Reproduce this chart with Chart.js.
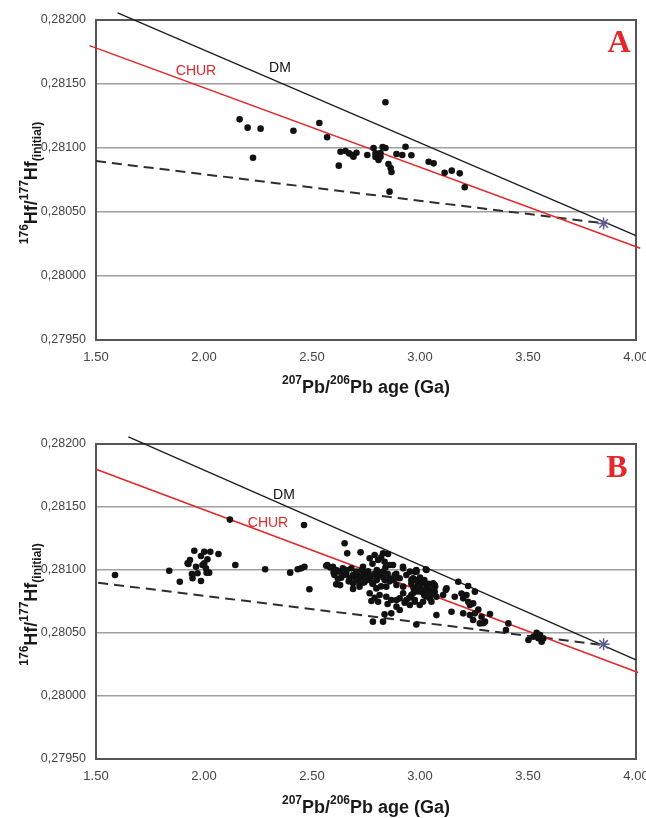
<!DOCTYPE html>
<html>
<head>
<meta charset="utf-8">
<script src="https://cdn.jsdelivr.net/npm/chart.js@4/dist/chart.umd.min.js"></script>
<style>
  html, body { margin: 0; padding: 0; background: #fff; }
  #wrap { position: relative; width: 646px; height: 818px; overflow: hidden; }
  .panel { position: absolute; left: 0; width: 646px; height: 409px; }
  canvas { display: block; }
</style>
</head>
<body>
<div id="wrap">
  <div class="panel" style="top:0"><canvas id="chartA" width="646" height="409"></canvas></div>
  <div class="panel" style="top:409px"><canvas id="chartB" width="646" height="409"></canvas></div>
</div>
<script>
// ---- axis ticks ----
const xTicks = [1.5, 2.0, 2.5, 3.0, 3.5, 4.0];
const yTicks = [0.2795, 0.2800, 0.2805, 0.2810, 0.2815, 0.2820];

// ---- reference evolution lines (age Ga, 176Hf/177Hf) ----
const churAgeA = [1.47, 4.02];
const churHfA  = [0.281800, 0.280217];
const dmAgeA   = [1.60, 4.00];
const dmHfA    = [0.282055, 0.280315];
const trendAgeA = [1.50, 3.85];
const trendHfA  = [0.280898, 0.280412];

const churAgeB = [1.50, 4.01];
const churHfB  = [0.281800, 0.280186];
const dmAgeB   = [1.65, 4.00];
const dmHfB    = [0.282056, 0.280286];
const trendAgeB = [1.51, 3.845];
const trendHfB  = [0.280899, 0.280405];

// model age marker
const markerAge = [3.85];
const markerHf  = [0.28041];

// ---- zircon analyses, panel A ----
const ageA = [
  2.165, 2.202, 2.262, 2.227, 2.414, 2.534, 2.570, 2.624, 2.632, 2.655,
  2.687, 2.706, 2.692, 2.756, 2.785, 2.794, 2.808, 2.827, 2.840, 2.817,
  2.854, 2.864, 2.868, 2.859, 2.840, 2.891, 2.918, 2.933, 2.960, 3.040,
  3.063, 3.114, 3.147, 3.184, 3.207, 2.794, 2.817, 2.672
];
const hfA = [
  0.281224, 0.281159, 0.281151, 0.280924, 0.281135, 0.281195, 0.281084, 0.280862, 0.280971, 0.280977,
  0.280945, 0.280963, 0.280932, 0.280945, 0.281000, 0.280930, 0.280906, 0.281008, 0.281000, 0.280961,
  0.280875, 0.280844, 0.280813, 0.280659, 0.281357, 0.280953, 0.280945, 0.281010, 0.280943, 0.280893,
  0.280880, 0.280807, 0.280823, 0.280802, 0.280693, 0.280958, 0.280932, 0.280958
];

// ---- zircon analyses, panel B ----
const ageB = [
  1.588, 1.839, 1.888, 1.924, 1.935, 1.955, 1.963, 1.944, 1.947, 1.970,
  1.986, 1.986, 2.001, 2.009, 2.016, 2.012, 2.024, 2.029, 2.067, 1.928,
  1.993, 2.001, 2.120, 2.145, 2.283, 2.399, 2.434, 2.450, 2.465, 2.488,
  2.463, 2.571, 2.566, 2.651, 2.663, 2.725, 2.790, 2.829, 2.852, 2.767,
  2.806, 2.836, 2.860, 2.875, 2.921, 2.984, 3.027, 2.983, 2.585, 2.597,
  2.612, 2.628, 2.604, 2.635, 2.659, 2.674, 2.690, 2.705, 2.713, 2.728,
  2.751, 2.744, 2.767, 2.782, 2.798, 2.813, 2.837, 2.860, 2.883, 2.906,
  2.922, 2.937, 2.960, 2.976, 2.991, 3.014, 3.030, 3.030, 3.007, 2.612,
  2.767, 2.775, 2.806, 2.813, 2.844, 2.867, 2.891, 2.906, 2.922, 2.937,
  2.953, 2.976, 2.999, 2.891, 2.867, 2.836, 2.782, 2.829, 2.983, 2.953,
  2.968, 2.690, 2.720, 2.643, 2.682, 2.736, 2.829, 2.891, 2.922, 2.844,
  2.798, 3.107, 3.123, 3.177, 3.223, 3.254, 3.192, 3.200, 3.161, 3.223,
  3.246, 3.270, 3.200, 3.231, 3.254, 3.285, 3.324, 3.277, 3.301, 3.246,
  3.146, 3.076, 3.409, 3.398, 3.502, 3.540, 3.556, 3.563, 3.571, 3.525,
  2.991, 3.007, 3.022, 3.038, 3.061, 3.068, 3.045, 3.076, 2.976, 3.014,
  3.053, 2.906, 3.293, 3.548, 3.068, 3.119, 2.929, 2.960, 3.215, 3.231,
  2.980, 3.000, 3.010, 3.030, 2.990, 3.020, 3.040, 2.970, 3.000, 3.050,
  2.600, 2.620, 2.650, 2.670, 2.700, 2.720, 2.660, 2.740, 2.690, 2.630,
  2.780, 2.800, 2.820, 2.840, 2.710, 2.730, 2.750, 2.760, 2.770, 2.790,
  2.800, 2.810, 2.830, 2.850, 2.860, 2.780, 2.740, 2.820, 2.880, 2.890,
  2.960, 2.990, 3.020, 3.040, 3.060, 2.970, 3.010, 3.030, 3.070, 2.790,
  2.850, 2.950
];
const hfB = [
  0.280960, 0.280994, 0.280907, 0.281053, 0.281079, 0.281153, 0.281026, 0.280968, 0.280934, 0.280974,
  0.281111, 0.280913, 0.281053, 0.281013, 0.281085, 0.280979, 0.280979, 0.281145, 0.281127, 0.281048,
  0.281040, 0.281145, 0.281400, 0.281040, 0.281006, 0.280979, 0.281006, 0.281013, 0.281026, 0.280847,
  0.281357, 0.281040, 0.281034, 0.281212, 0.281132, 0.281140, 0.281119, 0.281132, 0.281127, 0.281093,
  0.281079, 0.281066, 0.281040, 0.281040, 0.281026, 0.280987, 0.281006, 0.280999, 0.281020, 0.281026,
  0.281000, 0.280987, 0.280960, 0.280939, 0.280973, 0.280934, 0.280960, 0.280987, 0.280920, 0.280947,
  0.280960, 0.280907, 0.280920, 0.280894, 0.280934, 0.280960, 0.280920, 0.280934, 0.280960, 0.280934,
  0.281013, 0.280960, 0.280920, 0.280987, 0.280920, 0.280894, 0.281000, 0.280854, 0.280828, 0.280886,
  0.280815, 0.280754, 0.280748, 0.280801, 0.280788, 0.280762, 0.280762, 0.280775, 0.280815, 0.280762,
  0.280722, 0.280748, 0.280722, 0.280709, 0.280656, 0.280648, 0.280590, 0.280590, 0.280568, 0.280987,
  0.280934, 0.280894, 0.280868, 0.281013, 0.281013, 0.281026, 0.280987, 0.280881, 0.280868, 0.280868,
  0.280854, 0.280801, 0.280854, 0.280907, 0.280873, 0.280828, 0.280814, 0.280775, 0.280788, 0.280748,
  0.280735, 0.280687, 0.280656, 0.280642, 0.280656, 0.280629, 0.280650, 0.280576, 0.280590, 0.280603,
  0.280669, 0.280642, 0.280576, 0.280523, 0.280444, 0.280502, 0.280484, 0.280431, 0.280457, 0.280470,
  0.280881, 0.280841, 0.280815, 0.280867, 0.280894, 0.280828, 0.280775, 0.280788, 0.280761, 0.280748,
  0.280748, 0.280683, 0.280577, 0.280458, 0.280881, 0.280841, 0.280741, 0.280802, 0.280802, 0.280722,
  0.280920, 0.280880, 0.280900, 0.280850, 0.280830, 0.280800, 0.280890, 0.280860, 0.280940, 0.280830,
  0.280980, 0.280930, 0.280960, 0.280910, 0.280940, 0.280890, 0.281000, 0.280970, 0.280850, 0.280880,
  0.281050, 0.281000, 0.281100, 0.281020, 0.280960, 0.281000, 0.280930, 0.280990, 0.280950, 0.280970,
  0.280920, 0.280980, 0.280940, 0.280970, 0.280910, 0.280890, 0.280900, 0.280870, 0.280920, 0.280970,
  0.280890, 0.280870, 0.280920, 0.280860, 0.280810, 0.280820, 0.280840, 0.280790, 0.280870, 0.280780,
  0.280730, 0.280780
];

const SANS = '"Liberation Sans", Arial, Helvetica, sans-serif';
const SERIF = '"Liberation Serif", "Times New Roman", serif';
const RED = '#e2282a';

const xy = (xs, ys) => xs.map((x, i) => ({ x: x, y: ys[i] }));

// bold text with superscript / subscript runs, centred on (x, y)
function richText(ctx, parts, x, y) {
  let total = 0;
  parts.forEach(p => { ctx.font = 'bold ' + p[1] + 'px ' + SANS; total += ctx.measureText(p[0]).width; });
  let cx = x - total / 2;
  ctx.textAlign = 'left';
  ctx.textBaseline = 'alphabetic';
  parts.forEach(p => {
    ctx.font = 'bold ' + p[1] + 'px ' + SANS;
    ctx.fillText(p[0], cx, y + p[2]);
    cx += ctx.measureText(p[0]).width;
  });
}

const xTitle = [['207', 12, -9], ['Pb/', 18, 0], ['206', 12, -9], ['Pb age (Ga)', 18, 0]];
const yTitle = [['176', 12, -9], ['Hf/', 18, 0], ['177', 12, -9], ['Hf', 18, 0], ['(initial)', 12, 4]];

const panelDecor = {
  id: 'panelDecor',
  beforeDatasetsDraw(chart) {
    const a = chart.chartArea, ctx = chart.ctx;
    ctx.save();
    ctx.strokeStyle = '#555';
    ctx.lineWidth = 2;
    ctx.strokeRect(a.left, a.top, a.right - a.left, a.bottom - a.top);
    ctx.restore();
  },
  afterDraw(chart, args, o) {
    const a = chart.chartArea, ctx = chart.ctx;
    ctx.save();
    // panel letter
    ctx.fillStyle = RED;
    ctx.font = 'bold 32px ' + SERIF;
    ctx.textAlign = 'center';
    ctx.textBaseline = 'alphabetic';
    ctx.fillText(o.letter, o.letterX, o.letterY);
    // curve labels
    ctx.font = '14px ' + SANS;
    o.labels.forEach(l => {
      ctx.fillStyle = l.color;
      ctx.fillText(l.text, l.x, l.y);
    });
    // axis titles
    ctx.fillStyle = '#1a1a1a';
    richText(ctx, xTitle, (a.left + a.right) / 2, a.bottom + o.xTitleGap);
    ctx.translate(o.yTitleX, (a.top + a.bottom) / 2 + 3);
    ctx.rotate(-Math.PI / 2);
    richText(ctx, yTitle, 0, 0);
    ctx.restore();
  }
};

function makePanel(id, d) {
  return new Chart(document.getElementById(id), {
    type: 'scatter',
    data: {
      datasets: [
        { label: 'CHUR', data: xy(d.churAge, d.churHf), showLine: true, borderColor: RED,
          borderWidth: 1.5, pointRadius: 0, pointHoverRadius: 0, clip: false, order: 3 },
        { label: 'DM', data: xy(d.dmAge, d.dmHf), showLine: true, borderColor: '#1e1e1e',
          borderWidth: 1.3, pointRadius: 0, pointHoverRadius: 0, clip: false, order: 3 },
        { label: 'crustal evolution', data: xy(d.trendAge, d.trendHf), showLine: true,
          borderColor: '#2e2e2e', borderWidth: 2, borderDash: [10, 6], pointRadius: 0,
          pointHoverRadius: 0, clip: false, order: 3 },
        { label: 'zircon', data: xy(d.age, d.hf), pointRadius: 3.3, pointHoverRadius: 3.3,
          backgroundColor: '#111', borderWidth: 0, order: 2 },
        { label: 'model', data: xy(markerAge, markerHf), pointStyle: 'star', pointRadius: 6,
          borderColor: '#5c5c92', backgroundColor: '#5c5c92', borderWidth: 1.5, clip: false, order: 1 }
      ]
    },
    options: {
      responsive: false,
      animation: false,
      events: [],
      layout: { padding: { top: d.top, right: 10, left: 0, bottom: 0 } },
      plugins: {
        legend: { display: false },
        tooltip: { enabled: false },
        panelDecor: d.decor
      },
      scales: {
        x: {
          type: 'linear', min: 1.5, max: 4.0,
          afterBuildTicks: s => { s.ticks = xTicks.map(v => ({ value: v })); },
          afterFit: s => { s.height = d.xHeight; s.paddingLeft = 0; s.paddingRight = 0; },
          grid: { display: false, drawTicks: false },
          border: { display: false },
          ticks: { autoSkip: false, maxRotation: 0, padding: 10, color: '#444',
                   font: { family: SANS, size: 13 }, callback: v => v.toFixed(2) }
        },
        y: {
          type: 'linear', min: 0.2795, max: 0.2820,
          afterBuildTicks: s => { s.ticks = yTicks.map(v => ({ value: v })); },
          afterFit: s => { s.width = 96; s.paddingTop = 0; s.paddingBottom = 0; },
          grid: { color: '#a0a0a0', lineWidth: 1.5, drawTicks: false },
          border: { display: false },
          ticks: { padding: 10, color: '#444', font: { family: SANS, size: 12.5 },
                   callback: v => v.toFixed(5).replace('.', ',') }
        }
      }
    },
    plugins: [panelDecor]
  });
}

makePanel('chartA', {
  churAge: churAgeA, churHf: churHfA, dmAge: dmAgeA, dmHf: dmHfA,
  trendAge: trendAgeA, trendHf: trendHfA, age: ageA, hf: hfA,
  top: 20, xHeight: 69,
  decor: {
    letter: 'A', letterX: 619, letterY: 52,
    labels: [{ text: 'CHUR', color: RED, x: 196, y: 75 }, { text: 'DM', color: '#111', x: 280, y: 72 }],
    xTitleGap: 53, yTitleX: 37
  }
});

makePanel('chartB', {
  churAge: churAgeB, churHf: churHfB, dmAge: dmAgeB, dmHf: dmHfB,
  trendAge: trendAgeB, trendHf: trendHfB, age: ageB, hf: hfB,
  top: 35, xHeight: 59,
  decor: {
    letter: 'B', letterX: 617, letterY: 68,
    labels: [{ text: 'DM', color: '#111', x: 284, y: 90 }, { text: 'CHUR', color: RED, x: 268, y: 118 }],
    xTitleGap: 54, yTitleX: 37
  }
});
</script>
</body>
</html>
